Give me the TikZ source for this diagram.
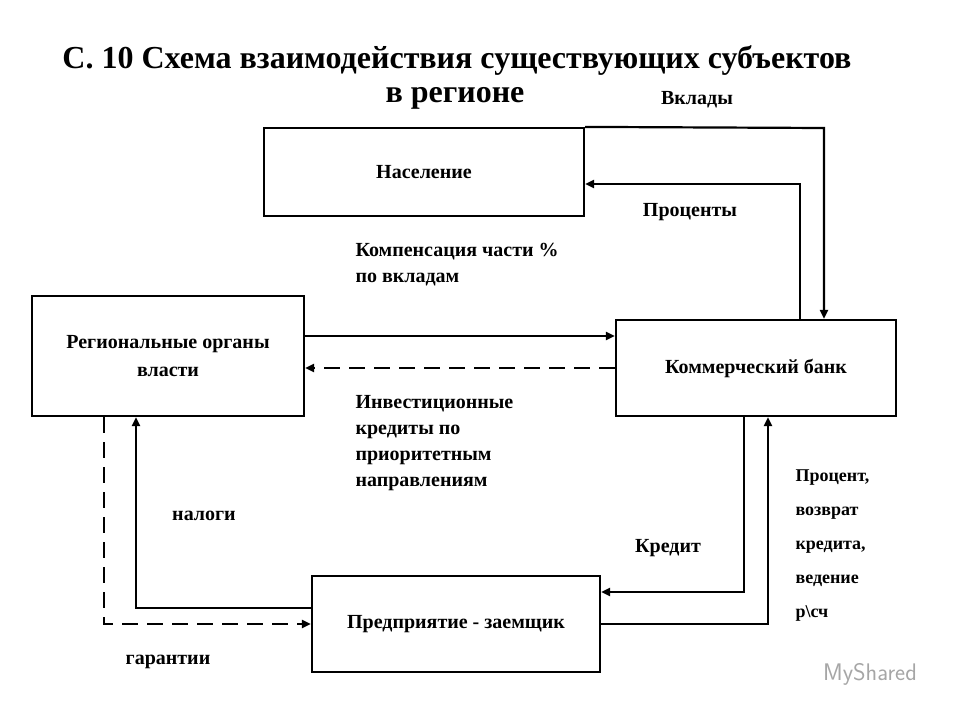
\documentclass[tikz,border=0pt]{standalone}
\usepackage{fontspec}
\setmainfont{Liberation Serif}
\usetikzlibrary{arrows.meta}
\begin{document}
\begin{tikzpicture}[x=1pt,y=-1pt,
 box/.style={draw,line width=2.2pt,inner sep=0pt,font=\bfseries\fontsize{20}{24}\selectfont,align=center},
 con/.style={line width=2.2pt,-{Triangle[length=9pt,width=8pt]}},
 dsh/.style={con,dash pattern=on 16pt off 9pt},
 lab/.style={font=\bfseries\fontsize{20}{26}\selectfont,align=left},
 sl/.style={font=\bfseries\fontsize{18}{34}\selectfont,align=left}]
\useasboundingbox (0,0) rectangle (960,720);
\node[font=\bfseries\fontsize{32}{36}\selectfont] (t1) at (457,60) {С. 10 Схема взаимодействия существующих субъектов};
\node[font=\bfseries\fontsize{32}{36}\selectfont] (t2) at (455,98) {в регионе};
\node[box,minimum width=320pt,minimum height=88pt] (pop) at (424,172) {Население};
\node[box,minimum width=272pt,minimum height=120pt] (reg) at (168,356) {Региональные органы\\[4pt]власти};
\node[box,minimum width=280pt,minimum height=96pt] (bank) at (756,368) {Коммерческий банк};
\node[box,minimum width=288pt,minimum height=96pt] (ent) at (456,624) {Предприятие - заемщик};
\coordinate (a1) at (824,128);
\coordinate (a2) at (800,184);
\coordinate (b1) at (136,608);
\coordinate (b2) at (104,624);
\coordinate (c1) at (744,592);
\coordinate (c2) at (768,624);
\draw[con] (pop.north east) -- (a1) -- (a1|-bank.north);
\draw[con] (a2|-bank.north) -- (a2) -- (a2-|pop.east);
\draw[con] (reg.east|-0,336) -- (bank.west|-0,336);
\draw[dsh] (bank.west|-0,368) -- (reg.east|-0,368);
\draw[con] (b1-|ent.west) -- (b1) -- (b1|-reg.south);
\draw[dsh] (b2|-reg.south) -- (b2) -- (b2-|ent.west);
\draw[con] (c1|-bank.south) -- (c1) -- (c1-|ent.east);
\draw[con] (c2-|ent.east) -- (c2) -- (c2|-bank.south);
\node[lab] (l1) at (697,100) {Вклады};
\node[lab] (l2) at (690,212) {Проценты};
\node[lab,anchor=north west] (l3) at (352,240) {Компенсация части \%\\по вкладам};
\node[lab,anchor=north west] (l4) at (352,392) {Инвестиционные\\кредиты по\\приоритетным\\направлениям};
\node[lab] (l5) at (204,516) {налоги};
\node[lab] (l6) at (168,662) {гарантии};
\node[lab] (l7) at (668,548) {Кредит};
\node[sl,anchor=north west] (l8) at (792,466) {Процент,\\возврат\\кредита,\\ведение\\р\textbackslash сч};
\node[font=\sffamily\fontsize{24}{28}\selectfont,text=black!35] (wm) at (870,674) {MyShared};
\end{tikzpicture}
\end{document}
